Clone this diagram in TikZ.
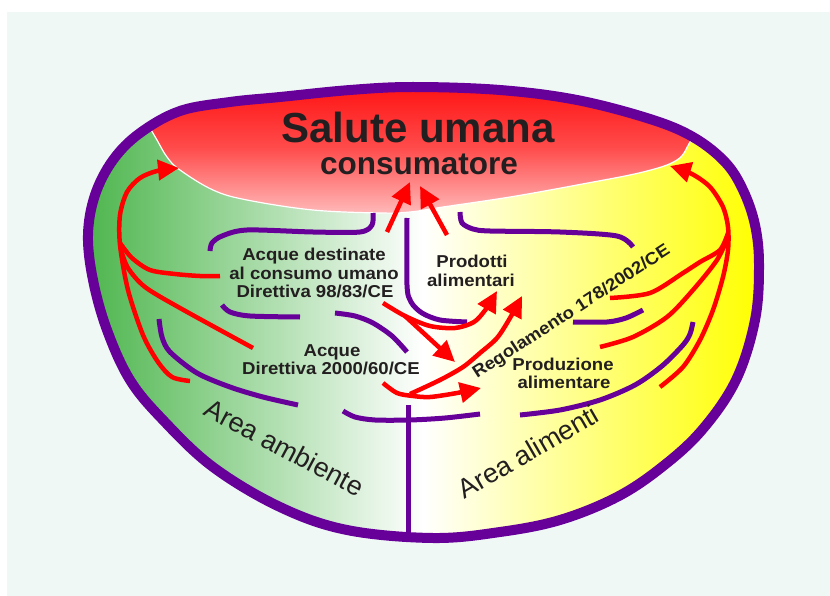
\documentclass[tikz,border=0pt]{standalone}
\usepackage{fontspec}
\setmainfont{Liberation Sans}
\newfontfamily\labfont[FakeStretch=1.08]{Liberation Sans}
\usetikzlibrary{arrows.meta}
\definecolor{bgmint}{RGB}{240,248,245}
\definecolor{vio}{RGB}{102,0,153}
\definecolor{txt}{RGB}{35,31,32}
\definecolor{grn}{RGB}{78,182,78}
\definecolor{ylw}{RGB}{255,255,0}
\definecolor{redtop}{RGB}{255,16,16}
\definecolor{redmid}{RGB}{255,75,75}
\definecolor{redbot}{RGB}{255,185,185}
\tikzset{
  viol/.style={draw=vio, line width=5pt},
  redl/.style={draw=red, line width=4.5pt},
  redarr/.style={redl, -{Triangle[length=21pt,width=20pt]}},
  lab/.style={font=\labfont\bfseries\fontsize{17.2}{19}\selectfont, text=txt, anchor=base, inner sep=0pt},
  area/.style={font=\fontsize{27}{30}\selectfont, text=txt, anchor=base, inner sep=0pt},
}
\def\outlinepath{plot[smooth cycle, tension=0.6] coordinates {
 (413,87) (500,90) (577,100) (650,119) (693,137) (725,162) (743,190) (755,225)
 (759,265) (755,320) (736,380) (702,430) (662,467) (617,497) (560,520) (500,532)
 (433,538) (347,530) (280,507) (213,467) (163,420) (130,380) (107,330) (93,280)
 (88,235) (95,195) (113,160) (140,133) (180,111) (230,102) (280,97) (350,90)}}
\begin{document}
\begin{tikzpicture}[x=1pt,y=-1pt]
\useasboundingbox (0,0) rectangle (830,596);
\fill[bgmint] (7,12) rectangle (830,596);
% body fill
\shade[left color=grn, right color=ylw, middle color=white] \outlinepath;
% red top region
\begin{scope}
  \clip \outlinepath;
  \shade[top color=redtop, bottom color=redbot, middle color=redmid]
    (140,82) -- plot[smooth, tension=0.6] coordinates {(150,128) (157,140) (167,157) (180,170) (213,190) (247,200) (313,210) (380,213) (410,212) (443,207) (510,197) (577,185) (643,172) (677,160) (690,142) (698,128)} -- (710,82) -- cycle;
  \draw[white, line width=1.2pt] plot[smooth, tension=0.6] coordinates {(150,128) (157,140) (167,157) (180,170) (213,190) (247,200) (313,210) (380,213) (410,212) (443,207) (510,197) (577,185) (643,172) (677,160) (690,142) (698,128)};
\end{scope}
% purple inner lines
\draw[viol] (408,405) -- (408,537);
\draw[viol] plot[smooth] coordinates {(343,411) (355,417) (375,420) (410,420) (445,418) (480,414)};
\draw[viol] plot[smooth] coordinates {(520,415) (560,410) (600,400) (635,385) (662,366) (683,345) (690,334) (693,322)};
\draw[viol] plot[smooth] coordinates {(159,319) (162,337) (170,352) (197,373) (230,387) (263,397) (298,405)};
\draw[viol] plot[smooth] coordinates {(222,305) (230,312) (250,316) (300,317)};
\draw[viol] plot[smooth] coordinates {(335,313) (355,316) (373,323) (392,336) (407,352)};
\draw[viol] plot[smooth] coordinates {(573,322) (607,322) (626,318) (643,310)};
\draw[viol] plot[smooth] coordinates {(407,218) (407,285) (411,302) (422,313) (440,320) (467,322)};
\draw[viol] plot[smooth] coordinates {(373,213) (372,225) (360,232) (313,232) (247,230) (222,236) (212,243) (210,251)};
\draw[viol] plot[smooth] coordinates {(460,212) (462,223) (473,229) (490,231) (560,232) (617,236) (633,247)};
% outline
\draw[vio, line width=10pt] \outlinepath;
% left fan
\draw[redarr] plot[smooth] coordinates {(190,381) (172,377) (158,362) (143,335) (128,290) (120,245) (120,215) (127,192) (140,178) (157,171) (179,168)};
\draw[redl] plot[smooth] coordinates {(120,243) (132,258) (150,270) (175,274) (200,276) (220,276)};
\draw[redl] plot[smooth] coordinates {(121,250) (128,268) (145,287) (180,308) (253,348)};
% right fan
\draw[redarr] plot[smooth] coordinates {(660,387) (683,367) (700,340) (713,310) (723,277) (728,250) (728,227) (723,207) (710,187) (692,174) (670,166)};
\draw[redl] plot[smooth] coordinates {(728,233) (720,250) (700,262) (683,273) (650,293) (610,298)};
\draw[redl] plot[smooth] coordinates {(728,237) (717,260) (693,290) (667,317) (633,337) (600,347)};
% centre arrows
\draw[redarr] (387,232) -- (410,182);
\draw[redarr] (447,235) -- (420,186);
\draw[redarr] plot[smooth] coordinates {(383,303) (405,316) (430,326) (455,328) (474,322) (486,309) (497,291)};
\draw[redarr] (405,316) -- (455,362);
\draw[redarr] plot[smooth] coordinates {(383,383) (397,393) (413,396) (430,397) (457,393) (481,388)};
\draw[redarr] plot[smooth] coordinates {(410,394) (440,380) (463,367) (480,353) (497,338) (510,318) (522,296)};
% texts
\node[font=\bfseries\fontsize{42}{44}\selectfont, text=txt, anchor=base, inner sep=0pt] (title) at (418,143) {Salute umana};
\node[font=\bfseries\fontsize{31.5}{34}\selectfont, text=txt, anchor=base, inner sep=0pt] (cons) at (419,175) {consumatore};
\node[lab] (acq1) at (314,261) {Acque destinate};
\node[lab] (acq2) at (314,279) {al consumo umano};
\node[lab] (acq3) at (315,297) {Direttiva 98/83/CE};
\node[lab] (prod1) at (472,267) {Prodotti};
\node[lab] (prod2) at (471,286) {alimentari};
\node[lab] (aq1) at (332,356) {Acque};
\node[lab] (aq2) at (331,374) {Direttiva 2000/60/CE};
\node[lab] (pz1) at (563,370) {Produzione};
\node[lab] (pz2) at (564,388) {alimentare};
\node[lab, rotate=33] (reg) at (574,316) {Regolamento 178/2002/CE};
\node[area, rotate=-28] (amb) at (280,456) {Area ambiente};
\node[area, rotate=30] (ali) at (533,460) {Area alimenti};
\end{tikzpicture}
\end{document}
